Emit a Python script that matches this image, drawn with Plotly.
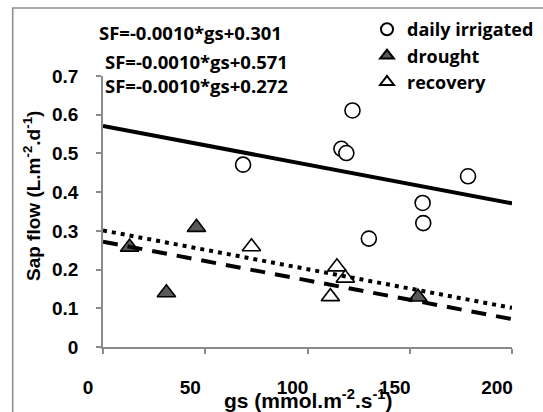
import plotly.graph_objects as go

# ---- data ----
irrigated_x = [68.5, 116.6, 119.0, 122.0, 130.0, 156.3, 156.6, 178.5]
irrigated_y = [0.471, 0.512, 0.501, 0.611, 0.280, 0.372, 0.320, 0.441]
drought_x = [13.0, 31.0, 45.7, 154.0]
drought_y = [0.258, 0.140, 0.309, 0.129]
recovery_x = [72.6, 111.2, 114.4, 118.5]
recovery_y = [0.259, 0.130, 0.207, 0.178]

fit_x = [0, 200]
fit_irrigated_y = [0.571, 0.371]
fit_recovery_y = [0.301, 0.101]
fit_drought_y = [0.272, 0.072]

equations = ["SF=-0.0010*gs+0.301", "SF=-0.0010*gs+0.571", "SF=-0.0010*gs+0.272"]
x_ticks = [0, 50, 100, 150, 200]
y_ticks = [0, 0.1, 0.2, 0.3, 0.4, 0.5, 0.6, 0.7]
y_tick_labels = ["0", "0.1", "0.2", "0.3", "0.4", "0.5", "0.6", "0.7"]

# ---- layout geometry ----
W, H = 543, 412
L, R, T, B = 103, 31, 76, 65
PW, PH = W - L - R, H - T - B


def px(x):
    return (x - L) / PW


def py(y):
    return (H - B - y) / PH


AX = "#8a8a8a"
TICKFONT = dict(family="Liberation Sans, Arial", size=19, color="black", weight="bold")
CAL = "Open Sans, Lato, sans-serif"

fig = go.Figure()
fig.add_trace(go.Scatter(x=irrigated_x, y=irrigated_y, mode="markers", name="daily irrigated",
                         marker=dict(symbol="circle", size=15, color="white",
                                     line=dict(color="black", width=1.6))))
fig.add_trace(go.Scatter(x=drought_x, y=drought_y, mode="markers", name="drought",
                         marker=dict(symbol="triangle-up", size=16, color="#595959",
                                     line=dict(color="black", width=1.6))))
fig.add_trace(go.Scatter(x=recovery_x, y=recovery_y, mode="markers", name="recovery",
                         marker=dict(symbol="triangle-up", size=16, color="white",
                                     line=dict(color="black", width=1.6))))
fig.add_trace(go.Scatter(x=fit_x, y=fit_irrigated_y, mode="lines", showlegend=False,
                         line=dict(color="black", width=4)))
fig.add_trace(go.Scatter(x=fit_x, y=fit_recovery_y, mode="lines", showlegend=False,
                         line=dict(color="black", width=4, dash="4px,5px")))
fig.add_trace(go.Scatter(x=fit_x, y=fit_drought_y, mode="lines", showlegend=False,
                         line=dict(color="black", width=4, dash="15px,10px")))

annotations = []
eq_pos = [(97, 33), (103, 61), (103, 85)]
for txt, (ex, ey) in zip(equations, eq_pos):
    annotations.append(dict(text=txt, xref="paper", yref="paper", x=px(ex), y=py(ey),
                            xanchor="left", yanchor="middle", showarrow=False,
                            font=dict(family=CAL, size=18.5, color="black", weight="bold")))
annotations.append(dict(text="gs (mmol.m<sup>-2</sup>.s<sup>-1</sup>)", xref="paper", yref="paper",
                        x=px(308), y=py(399), xanchor="center", yanchor="middle", showarrow=False,
                        font=dict(TICKFONT, size=21)))
annotations.append(dict(text="Sap flow (L.m<sup>-2</sup>.d<sup>-1</sup>)", xref="paper", yref="paper",
                        x=px(32), y=py(196), xanchor="center", yanchor="middle", showarrow=False,
                        textangle=-90, font=TICKFONT))

fig.update_layout(
    width=W, height=H,
    margin=dict(l=L, r=R, t=T, b=B, autoexpand=False),
    paper_bgcolor="white", plot_bgcolor="white",
    showlegend=True,
    legend=dict(x=px(367), y=py(11), xanchor="left", yanchor="top",
                font=dict(family=CAL, size=18, color="black", weight="bold"),
                itemsizing="constant", itemwidth=30, bgcolor="rgba(0,0,0,0)",
                tracegroupgap=0),
    annotations=annotations,
    shapes=[dict(type="path", xref="paper", yref="paper",
                 path=f"M {px(12.7)} {py(430)} L {px(12.7)} {py(8)} L {px(560)} {py(8)}",
                 line=dict(color="#8f8f8f", width=1.6))],
    xaxis=dict(range=[0, 200], tickvals=x_ticks, showgrid=False, zeroline=False,
               showline=True, linecolor=AX, linewidth=1.6, ticks="outside", ticklen=5,
               tickcolor=AX, tickwidth=1.6, tickfont=TICKFONT, ticklabelshift=-15,
               ticklabelstandoff=17, automargin=False),
    yaxis=dict(range=[0, 0.7], tickvals=y_ticks, ticktext=y_tick_labels, showgrid=False,
               zeroline=False, showline=True, linecolor=AX, linewidth=1.6, ticks="outside",
               ticklen=5, tickcolor=AX, tickwidth=1.6, tickfont=TICKFONT,
               ticklabelstandoff=14, automargin=False),
)

fig.write_html("out.html")
